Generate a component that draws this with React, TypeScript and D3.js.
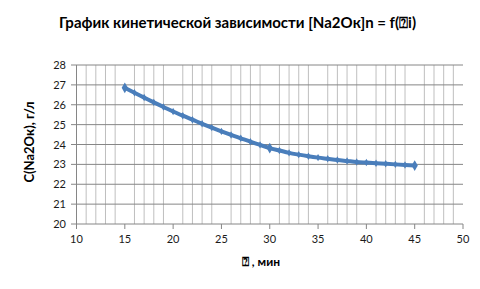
import React from "react";
import * as d3 from "d3";

const times = [15,16,17,18,19,20,21,22,23,24,25,26,27,28,29,30,31,32,33,34,35,36,37,38,39,40,41,42,43,44,45];
const conc = [26.85,26.6,26.36,26.12,25.89,25.66,25.45,25.25,25.04,24.85,24.66,24.48,24.31,24.14,23.98,23.82,23.7,23.58,23.49,23.41,23.34,23.28,23.22,23.17,23.12,23.09,23.06,23.03,23.0,22.97,22.94];
const xTicks = [10,15,20,25,30,35,40,45,50];
const yTicks = [20,21,22,23,24,25,26,27,28];
const title = "График кинетической зависимости [Na2Oк]n = f(⍰i)";
const xLabel = "⍰ , мин";
const yLabel = "C(Na2Oк), г/л";

const W = 480, H = 289;
const FONT = "Lato, 'Open Sans', sans-serif";

export default function App() {
  const x = d3.scaleLinear().domain([10, 50]).range([76.5, 463]);
  const y = d3.scaleLinear().domain([20, 28]).range([224, 65]);
  const minor = d3.range(10, 51, 1).filter((v) => v % 5 !== 0);
  const data = times.map((t, i) => [t, conc[i]] as [number, number]);
  const line = d3.line<[number, number]>().x((d) => x(d[0])).y((d) => y(d[1])).curve(d3.curveMonotoneX);
  const diamond = d3.symbol().type(d3.symbolDiamond).size(16);
  const endDiamond = d3.symbol().type(d3.symbolDiamond).size(34);
  const color = "#4a7ebb";
  const ends = [data[0], data[15], data[data.length - 1]];
  return (
    <svg width={W} height={H} style={{ position: "absolute", left: 0, top: 0, background: "#fff" }}>
      <text x={237.5} y={28} textAnchor="middle" fontFamily={FONT} fontWeight="bold" fontSize={15} fill="#000">{title}</text>
      {minor.map((v) => (
        <line key={"m" + v} x1={x(v)} x2={x(v)} y1={65} y2={224} stroke="#bfbfbf" strokeWidth={1} />
      ))}
      {yTicks.map((v) => (
        <line key={"g" + v} x1={71} x2={463} y1={y(v)} y2={y(v)} stroke="#868686" strokeWidth={1} />
      ))}
      <line x1={76.5} x2={76.5} y1={65} y2={224} stroke="#868686" />
      {xTicks.map((v) => (
        <line key={"t" + v} x1={x(v)} x2={x(v)} y1={224} y2={229} stroke="#868686" />
      ))}
      {yTicks.map((v) => (
        <text key={"yl" + v} x={66} y={y(v) + 4} textAnchor="end" fontFamily={FONT} fontSize={11} fill="#1a1a1a">{v}</text>
      ))}
      {xTicks.map((v) => (
        <text key={"xl" + v} x={x(v)} y={243} textAnchor="middle" fontFamily={FONT} fontSize={11} fill="#1a1a1a">{v}</text>
      ))}
      <path d={line(data) || ""} fill="none" stroke={color} strokeWidth={4} />
      {data.map((d, i) => (
        <path key={"p" + i} d={diamond() || ""} transform={`translate(${x(d[0])},${y(d[1])})`} fill={color} />
      ))}
      {ends.map((d, i) => (
        <path key={"e" + i} d={endDiamond() || ""} transform={`translate(${x(d[0])},${y(d[1])})`} fill={color} />
      ))}
      <text x={261} y={266} textAnchor="middle" fontFamily={FONT} fontWeight="bold" fontSize={12} fill="#000">{xLabel}</text>
      <text transform={`translate(34,142) rotate(-90)`} textAnchor="middle" fontFamily={FONT} fontWeight="bold" fontSize={13} fill="#000">{yLabel}</text>
    </svg>
  );
}
